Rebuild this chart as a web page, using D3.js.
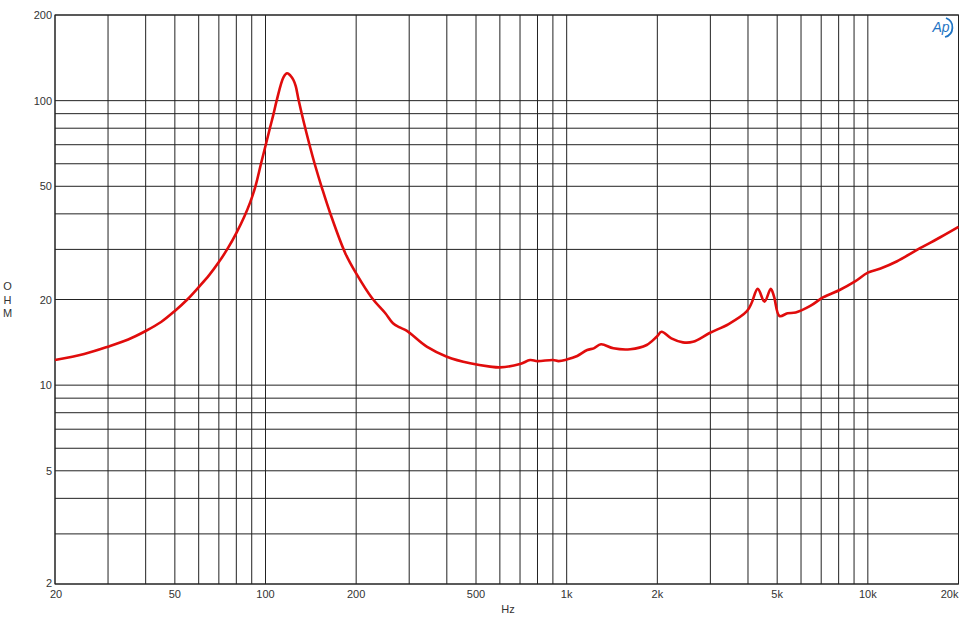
<!DOCTYPE html>
<html>
<head>
<meta charset="utf-8">
<script src="https://cdn.jsdelivr.net/npm/d3@7/dist/d3.min.js"></script>
<style>
  html, body { margin: 0; padding: 0; background: #fff; }
  svg { display: block; }
  text { font-family: "Liberation Sans", Arial, sans-serif; }
</style>
</head>
<body>
<svg id="chart" width="960" height="633"></svg>
<script>
// ---- data ----
const freqHz = [20, 25, 30, 35, 40, 45, 50, 55, 60, 65, 70, 75, 80, 85, 89, 92.6, 96.6, 100.2, 103.4, 106.4, 108.9, 114.8, 118, 121, 123.8, 126, 128.8, 133.7, 140.6, 146, 154, 164, 184, 200, 226, 250, 265, 279, 294, 343, 400, 478, 557, 600, 700, 756, 800, 900, 940, 1000, 1084, 1170, 1230, 1300, 1430, 1626, 1844, 1990, 2066, 2226, 2432, 2626, 2994, 3450, 3968, 4108, 4310, 4540, 4760, 4880, 5090, 5412, 5760, 6440, 7120, 8060, 9040, 10000, 11020, 12460, 14900, 17400, 20000];
const impedanceOhm = [12.25, 12.86, 13.65, 14.47, 15.5, 16.67, 18.23, 20.0, 22.1, 24.35, 27.07, 30.3, 34.25, 39.1, 44.0, 50, 60, 70, 80, 90, 100, 121, 124.8, 122.5, 118.2, 112.5, 100.5, 84.8, 68.7, 59.4, 49.3, 40.2, 29.1, 24.7, 20.2, 17.9, 16.5, 15.96, 15.54, 13.65, 12.59, 11.93, 11.62, 11.55, 11.86, 12.25, 12.15, 12.25, 12.15, 12.3, 12.66, 13.29, 13.47, 13.92, 13.47, 13.37, 13.84, 14.8, 15.4, 14.6, 14.14, 14.2, 15.28, 16.4, 18.2, 19.4, 21.8, 19.65, 21.8, 20.5, 17.5, 17.89, 18.0, 18.98, 20.37, 21.6, 23.1, 24.85, 25.7, 27.2, 30.3, 33.1, 36.0];

const xTickValues = [20, 50, 100, 200, 500, 1000, 2000, 5000, 10000, 20000];
const xTickLabels = ["20", "50", "100", "200", "500", "1k", "2k", "5k", "10k", "20k"];
const yTickValues = [2, 5, 10, 20, 50, 100, 200];
const yTickLabels = ["2", "5", "10", "20", "50", "100", "200"];
const xGridValues = [20,30,40,50,60,70,80,90,100,200,300,400,500,600,700,800,900,1000,2000,3000,4000,5000,6000,7000,8000,9000,10000,20000];
const yGridValues = [2,3,4,5,6,7,8,9,10,20,30,40,50,60,70,80,90,100,200];
const xAxisTitle = "Hz";
const yAxisTitle = ["O", "H", "M"];

// ---- layout ----
const plotL = 55, plotR = 958.5, plotT = 15, plotB = 584;
const svg = d3.select("#chart");
const x = d3.scaleLog().domain([20, 20000]).range([plotL, plotR]);
const y = d3.scaleLog().domain([2, 200]).range([plotB, plotT]);

const grid = svg.append("g");
grid.selectAll("line.v").data(xGridValues).join("line")
  .attr("x1", d => x(d)).attr("x2", d => x(d))
  .attr("y1", plotT).attr("y2", plotB)
  .attr("stroke", "#222").attr("stroke-width", 1);
grid.selectAll("line.h").data(yGridValues).join("line")
  .attr("y1", d => y(d)).attr("y2", d => y(d))
  .attr("x1", plotL).attr("x2", plotR)
  .attr("stroke", "#222").attr("stroke-width", 1);

svg.append("rect").attr("x", plotL).attr("y", plotT)
  .attr("width", plotR - plotL).attr("height", plotB - plotT)
  .attr("fill", "none").attr("stroke", "#222").attr("stroke-width", 1);

// tick labels
const nX = xTickValues.length;
svg.append("g").selectAll("text").data(xTickValues).join("text")
  .attr("x", (d, i) => i === nX - 1 ? 958.5 : (i === 0 ? x(d) + 1 : x(d)))
  .attr("y", 598)
  .attr("text-anchor", (d, i) => i === nX - 1 ? "end" : "middle")
  .attr("font-size", 11).attr("fill", "#333")
  .text((d, i) => xTickLabels[i]);
svg.append("g").selectAll("text").data(yTickValues).join("text")
  .attr("x", 52).attr("y", d => y(d) + (d === 2 ? 2.5 : 4))
  .attr("text-anchor", "end").attr("font-size", 11).attr("fill", "#333")
  .text((d, i) => yTickLabels[i]);

svg.append("text").attr("x", 508).attr("y", 613).attr("text-anchor", "middle")
  .attr("font-size", 11).attr("fill", "#333").text(xAxisTitle);
svg.append("g").selectAll("text").data(yAxisTitle).join("text")
  .attr("x", 7.5).attr("y", (d, i) => 290 + i * 13.5)
  .attr("text-anchor", "middle").attr("font-size", 11).attr("fill", "#333")
  .text(d => d);

// curve
const pts = freqHz.map((f, i) => [f, impedanceOhm[i]]);
const line = d3.line().x(d => x(d[0])).y(d => y(d[1])).curve(d3.curveCatmullRom.alpha(0.5));
svg.append("path").datum(pts).attr("d", line)
  .attr("fill", "none").attr("stroke", "#e00c0c").attr("stroke-width", 2.6)
  .attr("stroke-linejoin", "round");

// Ap logo
const logo = svg.append("g").attr("transform", "translate(942,27)");
logo.append("text").attr("x", -1).attr("y", 5).attr("text-anchor", "middle")
  .attr("font-size", 14).attr("font-style", "italic").attr("fill", "#1f74c4")
  .attr("font-family", "DejaVu Sans, sans-serif").text("Ap");
logo.append("path").attr("d", "M4,-9 A10,10 0 0 1 3,10")
  .attr("fill", "none").attr("stroke", "#1f74c4").attr("stroke-width", 1.8);
</script>
</body>
</html>
